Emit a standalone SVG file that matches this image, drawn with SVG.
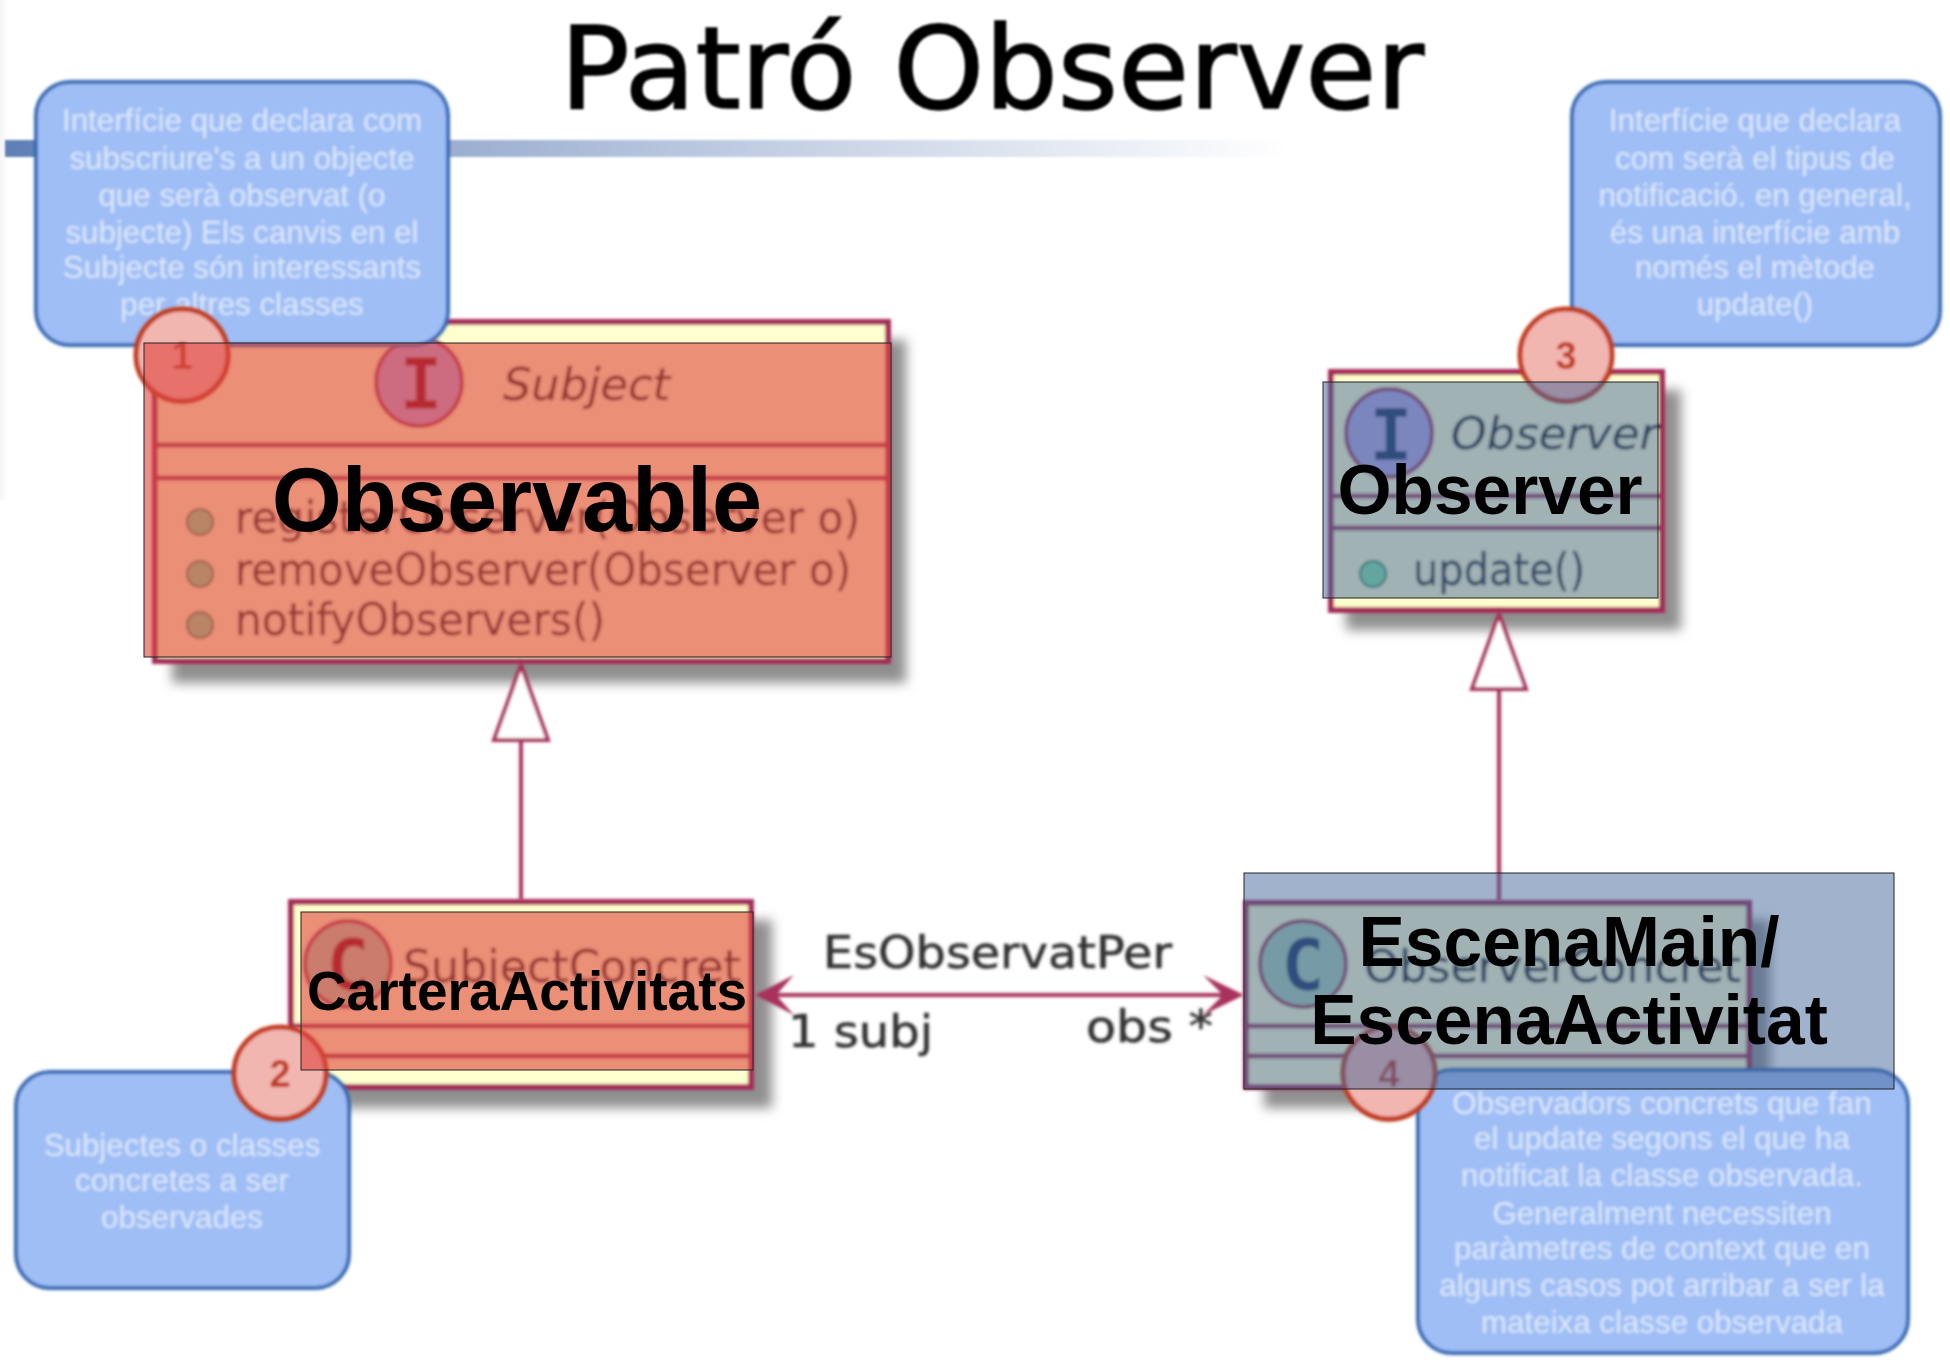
<svg xmlns="http://www.w3.org/2000/svg" width="1950" height="1360" viewBox="0 0 1950 1360">
<style>
.soft{filter:url(#soft)}
.shadow{fill:#8f8f8f;filter:url(#shade)}
.box{fill:#FEFECE;stroke:#A52A58;stroke-width:6}
.sep{stroke:#A52A58;stroke-width:5;fill:none}
.uml{font-family:"DejaVu Sans",sans-serif;font-size:44px;fill:#2e2e2e;stroke:#2e2e2e;stroke-width:.6}
.name{font-family:"DejaVu Sans",sans-serif;font-size:44px;fill:#222;stroke:#222;stroke-width:.6}
.ital{font-style:italic}
.spot{font-family:"DejaVu Sans Mono",monospace;font-weight:700;font-size:72px;text-anchor:middle}
.rel{fill:none;stroke:#A8305C;stroke-width:4}
.head{fill:#fff;stroke:#A8305C;stroke-width:4;stroke-linejoin:miter}
.call{fill:#9FBEF6;stroke:#3569B4;stroke-width:4}
.calltx{font-family:"Liberation Sans",Arial,sans-serif;font-size:31.3px;fill:#DDE8FA;text-anchor:middle}
.badge{fill:#F2B6B0;stroke:#C23A1C;stroke-width:5}
.num{font-family:"Liberation Sans",Arial,sans-serif;font-weight:700;font-size:38px;fill:#C0391B;text-anchor:middle}
.ovr{fill:#DE453D;fill-opacity:.6;stroke:#222;stroke-width:1}
.ovb{fill:#41659A;fill-opacity:.5;stroke:#222;stroke-width:1}
.big{font-family:"Liberation Sans",Arial,sans-serif;font-weight:700;fill:#000;text-anchor:middle}
.dot{fill:#84E4A5;stroke:#038048;stroke-width:2}
</style>
<defs>
<filter id="soft" x="-5%" y="-5%" width="110%" height="110%"><feGaussianBlur stdDeviation="1.7"/></filter>
<filter id="shade" x="-10%" y="-10%" width="120%" height="120%"><feGaussianBlur stdDeviation="6"/></filter>
<filter id="tsh" x="-5%" y="-10%" width="110%" height="125%"><feGaussianBlur stdDeviation="1.1"/></filter>
<linearGradient id="bar" x1="0" x2="1" y1="0" y2="0"><stop offset="0" stop-color="#5F7FB5"/><stop offset=".5" stop-color="#B4C3DC"/><stop offset="1" stop-color="#fff"/></linearGradient>
<linearGradient id="edge" x1="0" x2="1" y1="0" y2="0"><stop offset="0" stop-color="#f5f5f5"/><stop offset="1" stop-color="#fff"/></linearGradient>
</defs>
<rect width="1950" height="1360" fill="#fff"/>
<rect x="0" y="0" width="8" height="500" fill="url(#edge)"/>
<g id="title">
<rect x="5" y="140" width="1285" height="17" fill="url(#bar)" filter="url(#tsh)"/>
<text x="560" y="108" font-family="'DejaVu Sans',sans-serif" font-size="114" fill="#000" stroke="#000" stroke-width="1.6" textLength="864" lengthAdjust="spacingAndGlyphs" filter="url(#tsh)">Patró Observer</text>
</g>
<g id="node-subject">
<rect class="shadow" x="172" y="340" width="734" height="343"/>
<g class="soft">
<rect class="box" x="155" y="322" width="733" height="339"/>
<line class="sep" x1="155" y1="445" x2="888" y2="445"/>
<line class="sep" x1="155" y1="478" x2="888" y2="478"/>
<ellipse cx="419" cy="382" rx="43" ry="44" fill="#B4A7E5" stroke="#A52A58" stroke-width="4"/>
<text class="spot" x="421" y="409" fill="#800020">I</text>
<text class="name ital" x="503" y="400" textLength="167" lengthAdjust="spacingAndGlyphs">Subject</text>
<circle class="dot" cx="200" cy="522" r="13"/>
<circle class="dot" cx="200" cy="574" r="13"/>
<circle class="dot" cx="200" cy="625" r="13"/>
<text class="uml" x="235" y="533" textLength="625" lengthAdjust="spacingAndGlyphs">registerObserver(Observer o)</text>
<text class="uml" x="235" y="585" textLength="616" lengthAdjust="spacingAndGlyphs">removeObserver(Observer o)</text>
<text class="uml" x="235" y="635" textLength="370" lengthAdjust="spacingAndGlyphs">notifyObservers()</text>
</g>
</g>
<g id="node-observer">
<rect class="shadow" x="1346" y="390" width="335" height="240"/>
<g class="soft">
<rect class="box" x="1331" y="372" width="331" height="238"/>
<line class="sep" x1="1331" y1="496" x2="1662" y2="496"/>
<line class="sep" x1="1331" y1="528" x2="1662" y2="528"/>
<ellipse cx="1389" cy="433" rx="43" ry="44" fill="#B4A7E5" stroke="#A52A58" stroke-width="4"/>
<text class="spot" x="1391" y="460" fill="#1E3560">I</text>
<text class="name ital" x="1451" y="449" textLength="207" lengthAdjust="spacingAndGlyphs">Observer</text>
<circle class="dot" cx="1373" cy="574" r="13"/>
<text class="uml" x="1413" y="585" textLength="172" lengthAdjust="spacingAndGlyphs">update()</text>
</g>
</g>
<g id="node-subjectconcret">
<rect class="shadow" x="308" y="920" width="464" height="188"/>
<g class="soft">
<rect class="box" x="291" y="902" width="460" height="185"/>
<line class="sep" x1="291" y1="1026" x2="751" y2="1026"/>
<line class="sep" x1="291" y1="1056" x2="751" y2="1056"/>
<circle cx="348" cy="964" r="43" fill="#ADD1B2" stroke="#A52A58" stroke-width="4"/>
<text class="spot" x="348" y="990" fill="#800020">C</text>
<text class="name" x="403" y="982" textLength="338" lengthAdjust="spacingAndGlyphs">SubjectConcret</text>
</g>
</g>
<g id="node-observerconcret">
<rect class="shadow" x="1264" y="920" width="506" height="188"/>
<g class="soft">
<rect class="box" x="1246" y="903" width="503" height="184"/>
<line class="sep" x1="1246" y1="1026" x2="1749" y2="1026"/>
<line class="sep" x1="1246" y1="1056" x2="1749" y2="1056"/>
<circle cx="1303" cy="964" r="43" fill="#ADD1B2" stroke="#A52A58" stroke-width="4"/>
<text class="spot" x="1303" y="990" fill="#1E3560">C</text>
<text class="name" x="1364" y="982" textLength="377" lengthAdjust="spacingAndGlyphs">ObserverConcret</text>
</g>
</g>
<g id="connectors" class="soft">
<line class="rel" x1="521" y1="740" x2="521" y2="900"/>
<polygon class="head" points="521,665 494,740 548,740"/>
<line class="rel" x1="1499" y1="689" x2="1499" y2="901"/>
<polygon class="head" points="1499,614 1472,689 1526,689"/>
<line class="rel" x1="775" y1="995" x2="1225" y2="995"/>
<polygon points="755,995 794,975 776,995 794,1015" fill="#A8305C"/>
<polygon points="1244,995 1203,975 1223,995 1203,1015" fill="#A8305C"/>
<g font-family="'DejaVu Sans',sans-serif" font-size="44" fill="#333" stroke="#333" stroke-width=".6">
<text x="823" y="968" textLength="349" lengthAdjust="spacingAndGlyphs">EsObservatPer</text>
<text x="788" y="1047" textLength="145" lengthAdjust="spacingAndGlyphs">1 subj</text>
<text x="1086" y="1042" textLength="127" lengthAdjust="spacingAndGlyphs">obs *</text>
</g>
</g>
<g id="callout-1" class="soft">
<rect class="call" x="36" y="82" width="412" height="263" rx="34"/>
<text class="calltx" x="242" y="131">Interfície que declara com</text>
<text class="calltx" x="242" y="169">subscriure's a un objecte</text>
<text class="calltx" x="242" y="206">que serà observat (o</text>
<text class="calltx" x="242" y="243">subjecte) Els canvis en el</text>
<text class="calltx" x="242" y="278">Subjecte són interessants</text>
<text class="calltx" x="242" y="315">per altres classes</text>
</g>
<g id="callout-2" class="soft">
<rect class="call" x="16" y="1072" width="333" height="216" rx="34"/>
<text class="calltx" x="182" y="1156">Subjectes o classes</text>
<text class="calltx" x="182" y="1191">concretes a ser</text>
<text class="calltx" x="182" y="1228">observades</text>
</g>
<g id="callout-3" class="soft">
<rect class="call" x="1572" y="82" width="368" height="263" rx="34"/>
<text class="calltx" x="1755" y="131">Interfície que declara</text>
<text class="calltx" x="1755" y="169">com serà el tipus de</text>
<text class="calltx" x="1755" y="206">notificació. en general,</text>
<text class="calltx" x="1755" y="243">és una interfície amb</text>
<text class="calltx" x="1755" y="278">només el mètode</text>
<text class="calltx" x="1755" y="315">update()</text>
</g>
<g id="callout-4" class="soft">
<rect class="call" x="1418" y="1070" width="490" height="283" rx="34"/>
<text class="calltx" x="1662" y="1114">Observadors concrets que fan</text>
<text class="calltx" x="1662" y="1149">el update segons el que ha</text>
<text class="calltx" x="1662" y="1186">notificat la classe observada.</text>
<text class="calltx" x="1662" y="1224">Generalment necessiten</text>
<text class="calltx" x="1662" y="1259">paràmetres de context que en</text>
<text class="calltx" x="1662" y="1296">alguns casos pot arribar a ser la</text>
<text class="calltx" x="1662" y="1333">mateixa classe observada</text>
</g>
<g id="badge-1" class="soft"><ellipse cx="182" cy="358" rx="46" ry="46" fill="#7a3a2a" opacity=".55"/><circle class="badge" cx="182" cy="355" r="46"/><text class="num" x="182" y="369">1</text></g>
<g id="badge-2" class="soft"><ellipse cx="280" cy="1076" rx="46" ry="46" fill="#7a3a2a" opacity=".55"/><circle class="badge" cx="280" cy="1073" r="46"/><text class="num" x="280" y="1087">2</text></g>
<g id="badge-3" class="soft"><ellipse cx="1566" cy="358" rx="46" ry="46" fill="#7a3a2a" opacity=".55"/><circle class="badge" cx="1566" cy="355" r="46"/><text class="num" x="1566" y="369">3</text></g>
<g id="badge-4" class="soft"><ellipse cx="1389" cy="1076" rx="46" ry="46" fill="#7a3a2a" opacity=".55"/><circle class="badge" cx="1389" cy="1073" r="46"/><text class="num" x="1389" y="1087">4</text></g>
<g id="overlay-observable">
<rect class="ovr" x="144" y="343" width="747" height="314"/>
<text class="big" x="517" y="531" font-size="90">Observable</text>
</g>
<g id="overlay-observer">
<rect class="ovb" x="1323" y="382" width="335" height="216"/>
<text class="big" x="1490" y="514" font-size="69.5">Observer</text>
</g>
<g id="overlay-cartera">
<rect class="ovr" x="301" y="912" width="452" height="158"/>
<text class="big" x="527" y="1010" font-size="55">CarteraActivitats</text>
</g>
<g id="overlay-escena">
<rect class="ovb" x="1244" y="873" width="650" height="216"/>
<text class="big" x="1569" y="966" font-size="69.5">EscenaMain/</text>
<text class="big" x="1569" y="1044" font-size="69.5">EscenaActivitat</text>
</g>
</svg>
